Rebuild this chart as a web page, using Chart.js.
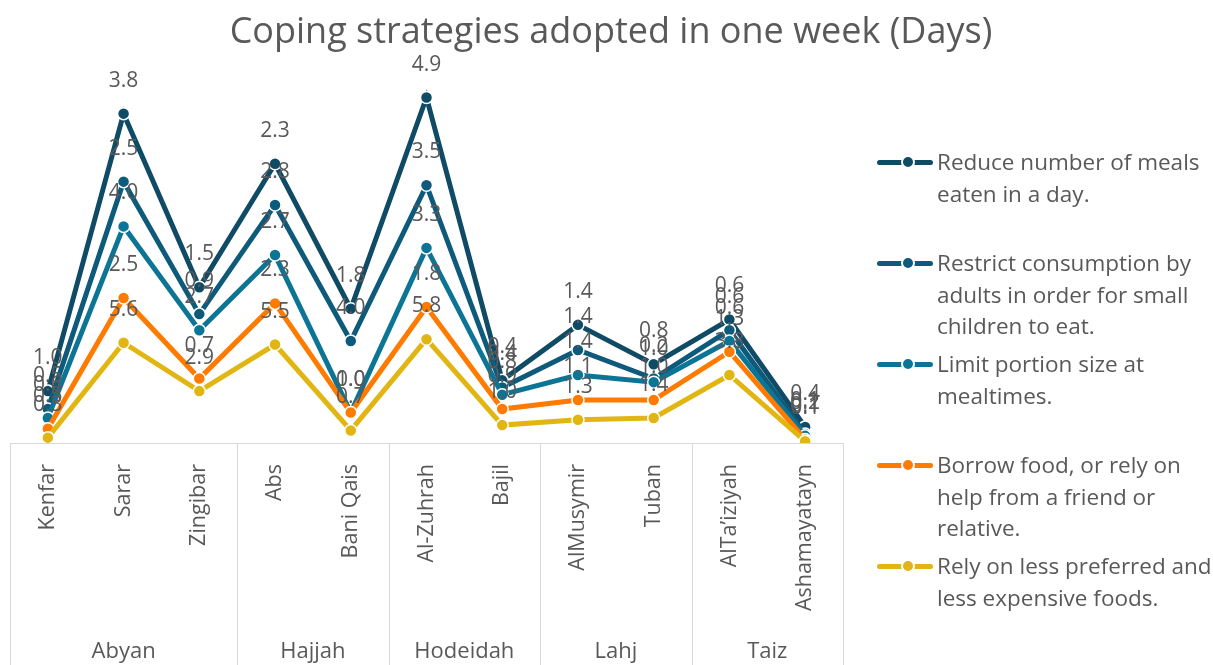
<!DOCTYPE html>
<html>
<head>
<meta charset="utf-8">
<script src="https://cdn.jsdelivr.net/npm/chart.js@4.4.1/dist/chart.umd.min.js"></script>
<style>
  html, body { margin: 0; padding: 0; background: #ffffff; overflow: hidden; }
  #wrap { position: relative; width: 1213px; height: 665px; font-family: "Open Sans", "Noto Sans", sans-serif; color: #595959; }
  #title { position: absolute; left: 0; top: 9px; width: 1222px; text-align: center; font-size: 36px; line-height: 42px; color: #595959; }
  #chartBox { position: absolute; left: 0; top: 0; width: 1213px; height: 665px; }
  .lg-item { position: absolute; left: 877px; }
  .lg-line { position: absolute; left: 0; width: 56px; height: 5px; border-radius: 3px; }
  .lg-dot { position: absolute; left: 24px; width: 10px; height: 10px; border-radius: 50%; border: 2px solid #fff; }
  .lg-text { position: absolute; left: 60px; white-space: nowrap; font-size: 22.5px; line-height: 31.5px; color: #595959; }
</style>
</head>
<body>
<div id="wrap">
  <div id="chartBox"><canvas id="c" width="1213" height="665"></canvas></div>
  <div id="title">Coping strategies adopted in one week (Days)</div>
  <div id="legend"></div>
</div>
<script>
// ---- Data ----
const chartTitle = 'Coping strategies adopted in one week (Days)';
const categories = ['Kenfar', 'Sarar', 'Zingibar', 'Abs', 'Bani Qais', 'Al-Zuhrah', 'Bajil', 'AlMusymir', 'Tuban', 'AlTa\u2019iziyah', 'Ashamayatayn'];
const groupNames = ['Abyan', 'Hajjah', 'Hodeidah', 'Lahj', 'Taiz'];
const groupSizes = [3, 2, 2, 2, 2];

const relyLessPreferred = [0.3, 5.6, 2.9, 5.5, 0.7, 5.8, 1.0, 1.3, 1.4, 3.8, 0.1];
const borrowFood        = [0.5, 2.5, 0.7, 2.3, 1.0, 1.8, 0.9, 1.1, 1.0, 1.3, 0.1];
const limitPortion      = [0.6, 4.0, 2.7, 2.7, 0.0, 3.3, 0.8, 1.4, 1.0, 0.6, 0.2];
const restrictAdults    = [0.5, 2.5, 0.9, 2.8, 4.0, 3.5, 0.4, 1.4, 0.2, 0.6, 0.1];
const reduceMeals       = [1.0, 3.8, 1.5, 2.3, 1.8, 4.9, 0.4, 1.4, 0.8, 0.6, 0.4];

const seriesNames = [
  ['Reduce number of meals', 'eaten in a day.'],
  ['Restrict consumption by', 'adults in order for small', 'children to eat.'],
  ['Limit portion size at', 'mealtimes.'],
  ['Borrow food, or rely on', 'help from a friend or', 'relative.'],
  ['Rely on less preferred and', 'less expensive foods.']
];
const seriesValues = [reduceMeals, restrictAdults, limitPortion, borrowFood, relyLessPreferred];
const seriesColors = ['#104B66', '#0D5A7B', '#0C7596', '#FF7B00', '#E2B612'];

// ---- Datasets (stacked bottom-up: last legend item at bottom) ----
const datasets = [];
for (let i = seriesValues.length - 1; i >= 0; i--) {
  datasets.push({
    label: seriesNames[i].join(' '),
    data: seriesValues[i],
    borderColor: seriesColors[i],
    backgroundColor: seriesColors[i],
    pointBackgroundColor: seriesColors[i],
    pointBorderColor: '#ffffff',
    pointBorderWidth: 1.5,
    pointRadius: 6,
    borderWidth: 5,
    tension: 0,
    fill: false
  });
}

const labelFont = '"Open Sans", "Noto Sans", sans-serif';

const valueLabels = {
  id: 'valueLabels',
  afterDatasetsDraw(chart) {
    const ctx = chart.ctx;
    ctx.save();
    ctx.font = '21px ' + labelFont;
    ctx.fillStyle = '#595959';
    ctx.textAlign = 'center';
    ctx.textBaseline = 'middle';
    chart.data.datasets.forEach((ds, di) => {
      const meta = chart.getDatasetMeta(di);
      meta.data.forEach((pt, i) => {
        ctx.fillText(Number(ds.data[i]).toFixed(1), pt.x, pt.y - 33);
      });
    });
    ctx.restore();
  }
};

const groupAxis = {
  id: 'groupAxis',
  afterDraw(chart) {
    const ctx = chart.ctx;
    const xs = chart.scales.x;
    const step = xs.width / categories.length;
    const top = chart.chartArea.bottom;
    const bottom = chart.height;
    ctx.save();
    ctx.strokeStyle = '#D9D9D9';
    ctx.lineWidth = 1;
    ctx.beginPath();
    ctx.moveTo(xs.left, top + 0.5);
    ctx.lineTo(xs.right, top + 0.5);
    let idx = 0;
    const bounds = [xs.getPixelForValue(0) - step / 2];
    groupSizes.forEach(n => {
      idx += n;
      bounds.push(xs.getPixelForValue(idx - 1) + step / 2);
    });
    bounds.forEach(b => {
      const bx = Math.round(b) + 0.5;
      ctx.moveTo(bx, top);
      ctx.lineTo(bx, bottom);
    });
    ctx.stroke();
    ctx.font = '22px ' + labelFont;
    ctx.fillStyle = '#595959';
    ctx.textAlign = 'center';
    ctx.textBaseline = 'middle';
    groupNames.forEach((g, gi) => {
      ctx.fillText(g, (bounds[gi] + bounds[gi + 1]) / 2, 652);
    });
    ctx.restore();
  }
};

new Chart(document.getElementById('c'), {
  type: 'line',
  data: { labels: categories, datasets: datasets },
  options: {
    responsive: false,
    animation: false,
    layout: { padding: { left: 10, right: 370, top: 85, bottom: 0 } },
    plugins: {
      legend: { display: false },
      title: { display: false },
      tooltip: { enabled: false }
    },
    scales: {
      x: {
        offset: true,
        grid: { display: false, drawTicks: false },
        border: { display: false },
        ticks: {
          autoSkip: false,
          minRotation: 90,
          maxRotation: 90,
          padding: 21,
          color: '#595959',
          font: { family: labelFont, size: 21.5 }
        },
        afterFit(scale) { scale.height = 222; }
      },
      y: {
        display: false,
        stacked: true,
        min: 0,
        max: 20
      }
    }
  },
  plugins: [valueLabels, groupAxis]
});

// ---- HTML legend ----
const legend = document.getElementById('legend');
seriesNames.forEach((lines, i) => {
  const cy = 162 + 101 * i;
  const item = document.createElement('div');
  item.className = 'lg-item';
  item.style.top = cy + 'px';
  const line = document.createElement('div');
  line.className = 'lg-line';
  line.style.top = '-2.5px';
  line.style.background = seriesColors[i];
  const dot = document.createElement('div');
  dot.className = 'lg-dot';
  dot.style.top = '-7px';
  dot.style.background = seriesColors[i];
  const txt = document.createElement('div');
  txt.className = 'lg-text';
  txt.style.top = '-16px';
  txt.innerHTML = lines.map(s => s.replace(/&/g, '&amp;')).join('<br>');
  item.appendChild(line);
  item.appendChild(dot);
  item.appendChild(txt);
  legend.appendChild(item);
});
</script>
</body>
</html>
